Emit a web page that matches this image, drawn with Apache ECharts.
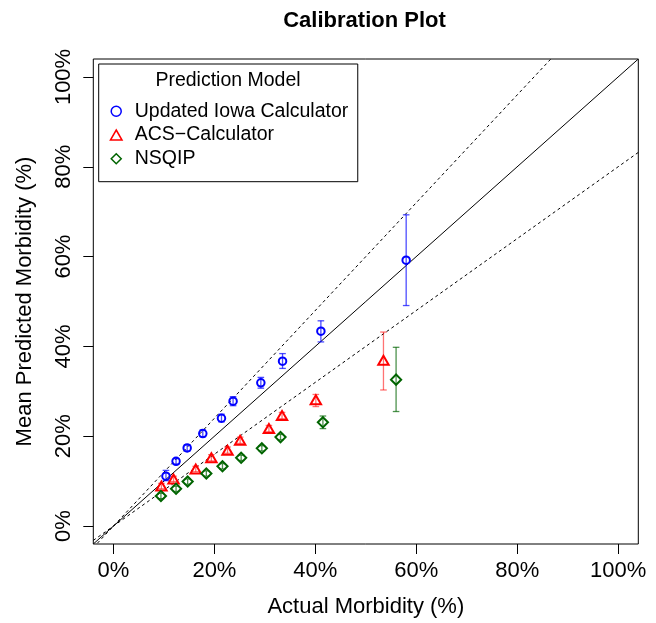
<!DOCTYPE html>
<html><head><meta charset="utf-8">
<script src="https://cdn.jsdelivr.net/npm/echarts@6/dist/echarts.min.js"></script>
<style>html,body{margin:0;padding:0;background:#fff}#c{width:656px;height:623px}</style>
</head><body><div id="c"></div>
<script>
// ---- data (percent) ----
const seriesNames = ['Updated Iowa Calculator', 'ACS\u2212Calculator', 'NSQIP'];
const iowaX  = [10.4, 12.4, 14.6, 17.7, 21.4, 23.7, 29.2, 33.5, 41.1, 58.0];
const iowaY  = [11.1, 14.4, 17.4, 20.6, 24.0, 27.8, 31.9, 36.7, 43.4, 59.2];
const iowaLo = [10.1, 13.8, 16.7, 19.9, 23.2, 26.8, 30.7, 35.1, 41.0, 49.1];
const iowaHi = [12.4, 15.0, 18.1, 21.4, 24.9, 28.8, 33.1, 38.4, 45.7, 69.3];
const acsX  = [9.5, 11.9, 16.3, 19.4, 22.6, 25.1, 30.8, 33.4, 40.1, 53.5];
const acsY  = [8.9, 10.5, 12.7, 15.2, 16.9, 19.1, 21.7, 24.6, 28.1, 36.9];
const acsLo = [8.3, 9.9, 12.1, 14.5, 16.2, 18.4, 21.0, 23.9, 26.6, 30.3];
const acsHi = [9.5, 11.1, 13.3, 15.9, 17.6, 19.8, 22.4, 25.3, 29.3, 43.2];
const nsqX  = [9.4, 12.4, 14.7, 18.4, 21.6, 25.3, 29.4, 33.1, 41.5, 56.0];
const nsqY  = [6.7, 8.3, 9.9, 11.7, 13.3, 15.2, 17.3, 19.8, 23.1, 32.6];
const nsqLo = [6.1, 7.7, 9.3, 11.1, 12.7, 14.6, 16.7, 19.2, 21.7, 25.5];
const nsqHi = [7.3, 8.9, 10.5, 12.3, 13.9, 15.8, 17.9, 20.4, 24.5, 39.8];
const tickValues = [0, 20, 40, 60, 80, 100];
const refSlopes = [1, 1.2, 0.8];
const axisMin = -4, axisMax = 104;

// ---- build ----
const FONT = '"Liberation Sans", Arial, Helvetica, sans-serif';
const colors = ['#0000ff', '#ff0000', '#006400'];
const barColors = ['rgba(0,0,255,0.7)', 'rgba(255,0,0,0.55)', 'rgba(0,100,0,0.7)'];
const symbols = ['circle', 'path://M0,-1.555L1.347,0.778L-1.347,0.778Z', 'path://M0,-1L1,0L0,1L-1,0Z'];
const symSizes = [7.5, 10.4, 10.2];
const xs = [iowaX, acsX, nsqX], ys = [iowaY, acsY, nsqY], los = [iowaLo, acsLo, nsqLo], his = [iowaHi, acsHi, nsqHi];

const series = [];
refSlopes.forEach((s, i) => {
  series.push({
    type: 'line', silent: true, symbol: 'none', clip: true, z: 1,
    data: [[axisMin, axisMin * s], [axisMax, axisMax * s]],
    lineStyle: { color: '#000', width: 1, type: i === 0 ? 'solid' : [3, 3] }
  });
});
seriesNames.forEach((name, k) => {
  series.push({
    type: 'custom', silent: true, z: 2,
    data: xs[k].map((x, i) => [x, los[k][i], his[k][i]]),
    encode: { x: 0, y: [1, 2] },
    renderItem: (params, api) => {
      const a = api.coord([api.value(0), api.value(1)]);
      const b = api.coord([api.value(0), api.value(2)]);
      const w = 3.3;
      const st = { stroke: barColors[k], lineWidth: 1.3 };
      return { type: 'group', children: [
        { type: 'line', shape: { x1: a[0], y1: a[1], x2: b[0], y2: b[1] }, style: st },
        { type: 'line', shape: { x1: a[0] - w, y1: a[1], x2: a[0] + w, y2: a[1] }, style: st },
        { type: 'line', shape: { x1: b[0] - w, y1: b[1], x2: b[0] + w, y2: b[1] }, style: st }
      ]};
    }
  });
  series.push({
    name: name, type: 'scatter', z: 3,
    symbol: symbols[k], symbolSize: symSizes[k], symbolKeepAspect: true,
    data: xs[k].map((x, i) => [x, ys[k][i]]),
    itemStyle: { color: 'transparent', borderColor: colors[k], borderWidth: 2, opacity: 1 },
    emphasis: { disabled: true }
  });
});

const axisCommon = {
  type: 'value', min: axisMin, max: axisMax,
  axisLine: { show: false, onZero: false },
  splitLine: { show: false },
  axisTick: { show: true, inside: false, length: 10, customValues: tickValues, lineStyle: { color: '#000', width: 1 } },
  nameTextStyle: { fontFamily: FONT, fontSize: 22, color: '#000' }
};

const option = {
  animation: false,
  backgroundColor: '#fff',
  title: [
    { text: 'Calibration Plot', left: 364.5, top: 10, padding: 0, textAlign: 'center',
      textStyle: { fontFamily: FONT, fontSize: 22, fontWeight: 'bold', color: '#000' } },
    { text: 'Prediction Model', left: 228, top: 71, padding: 0, textAlign: 'center', z: 10,
      textStyle: { fontFamily: FONT, fontSize: 19.5, fontWeight: 'normal', color: '#000' } }
  ],
  grid: { left: 93.3, right: 17.7, top: 59, bottom: 76.4, show: true, borderColor: '#000', borderWidth: 1, backgroundColor: 'transparent' },
  legend: {
    orient: 'vertical', left: 98.7, top: 64,
    padding: [37.3, 9.5, 13, 11],
    borderColor: '#000', borderWidth: 1, backgroundColor: '#fff',
    itemWidth: 27, itemHeight: 10, itemGap: 3.7, symbolKeepAspect: true,
    itemStyle: { borderWidth: 1.5 },
    textStyle: { fontFamily: FONT, fontSize: 19.5, lineHeight: 20, color: '#000' },
    data: seriesNames, selectedMode: false
  },
  xAxis: Object.assign({}, axisCommon, {
    name: 'Actual Morbidity (%)', nameLocation: 'middle', nameGap: 52,
    axisLabel: { customValues: tickValues, formatter: v => v + '%', margin: 16, fontFamily: FONT, fontSize: 22, color: '#000' }
  }),
  yAxis: Object.assign({}, axisCommon, {
    name: 'Mean Predicted Morbidity (%)', nameLocation: 'middle', nameGap: 57,
    nameTextStyle: { fontFamily: FONT, fontSize: 22, color: '#000', verticalAlign: 'bottom', align: 'center' },
    axisLabel: { customValues: tickValues, formatter: v => v + '%', rotate: 90, align: 'center', verticalAlign: 'bottom', margin: 18, fontFamily: FONT, fontSize: 22, color: '#000' }
  }),
  series: series
};
const chart = echarts.init(document.getElementById('c'), null, { renderer: 'canvas' });
chart.setOption(option);
</script></body></html>
